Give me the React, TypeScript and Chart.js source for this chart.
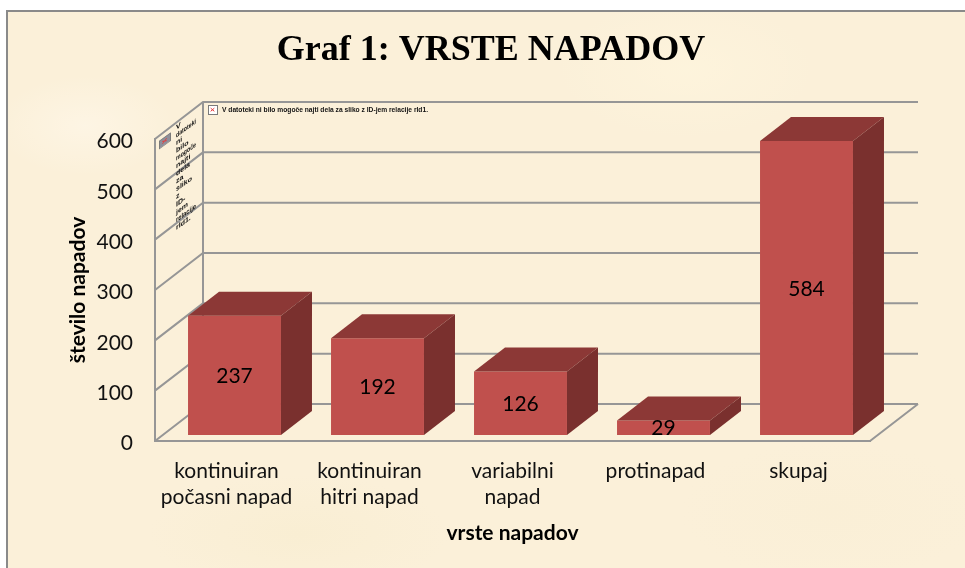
import React, { useEffect, useRef } from "react";
import { Chart, registerables } from "chart.js";

Chart.register(...registerables);

const categories: (string | string[])[] = [
  ["kontinuiran", "počasni napad"],
  ["kontinuiran", "hitri napad"],
  ["variabilni", "napad"],
  "protinapad",
  "skupaj",
];
const seriesValues = [237, 192, 126, 29, 584];
const chartTitle = "Graf 1: VRSTE NAPADOV";
const yAxisTitle = "število napadov";
const xAxisTitle = "vrste napadov";
const brokenImageText = "V datoteki ni bilo mogoče najti dela za sliko z ID-jem relacije rId1.";
const brokenImageLines = ["V", "datoteki", "ni", "bilo", "mogoče", "najti", "dela", "za", "sliko", "z", "ID-", "jem", "relacije", "rId1."];

const GRID = "#969696";
const FRONT = "#C0504D";
const TOP = "#8C3836";
const SIDE = "#7A302E";
const WALL_DX = 48;
const WALL_DY = -37;
const BAR_SHIFT_X = 8;
const BAR_SHIFT_Y = -6;
const BAR_DX = 31;
const BAR_DY = -24;
const LABEL_FONT = "Lato, sans-serif";

function brokenIcon(ctx: CanvasRenderingContext2D, x: number, y: number, s: number, fill: string) {
  ctx.fillStyle = fill;
  ctx.strokeStyle = "#7a7a7a";
  ctx.lineWidth = 1;
  ctx.fillRect(x, y, s, s);
  ctx.strokeRect(x + 0.5, y + 0.5, s, s);
  ctx.strokeStyle = "#e83a3a";
  ctx.beginPath();
  ctx.moveTo(x + s * 0.3, y + s * 0.35);
  ctx.lineTo(x + s * 0.7, y + s * 0.7);
  ctx.moveTo(x + s * 0.7, y + s * 0.35);
  ctx.lineTo(x + s * 0.3, y + s * 0.7);
  ctx.stroke();
}

const walls3d = {
  id: "walls3d",
  beforeDatasetsDraw(chart: any) {
    const { ctx, scales, chartArea } = chart;
    const { left, right, bottom, top } = chartArea;
    ctx.save();

    ctx.fillStyle = "#000";
    ctx.font = "bold 36px 'Liberation Serif', serif";
    ctx.textAlign = "center";
    ctx.textBaseline = "middle";
    ctx.fillText(chartTitle, 491, 51);

    ctx.strokeStyle = GRID;
    ctx.lineWidth = 2;
    scales.y.ticks.forEach((t: any) => {
      const y = scales.y.getPixelForValue(t.value);
      ctx.beginPath();
      ctx.moveTo(left, y);
      ctx.lineTo(left + WALL_DX, y + WALL_DY);
      ctx.lineTo(right + WALL_DX, y + WALL_DY);
      ctx.stroke();
    });
    ctx.beginPath();
    ctx.moveTo(left + WALL_DX, top + WALL_DY);
    ctx.lineTo(left + WALL_DX, bottom + WALL_DY);
    ctx.moveTo(right + WALL_DX, bottom + WALL_DY);
    ctx.lineTo(right, bottom);
    ctx.stroke();

    // missing-image placeholders painted on the back and side walls
    brokenIcon(ctx, 208, 105, 9, "#ffffff");
    ctx.fillStyle = "#111";
    ctx.font = "bold 6.7px 'Liberation Sans', sans-serif";
    ctx.textAlign = "left";
    ctx.textBaseline = "middle";
    ctx.fillText(brokenImageText, 222, 110, 206);

    ctx.save();
    ctx.transform(1, -0.72, 0, 1, 0, 0);
    const sx = 176;
    const lift = 0.72 * sx;
    ctx.font = "bold 7px 'Liberation Sans', sans-serif";
    brokenImageLines.forEach((line, i) => {
      ctx.fillText(line, sx, 128 + lift + i * 7.7, 20);
    });
    ctx.restore();
    ctx.save();
    ctx.transform(1, -0.72, 0, 0.7, 159, 141);
    brokenIcon(ctx, 0, 0, 11, "#8f8f9a");
    ctx.restore();
    ctx.restore();
  },
};

const bars3d = {
  id: "bars3d",
  beforeDatasetsDraw(chart: any) {
    chart.ctx.save();
    chart.ctx.translate(BAR_SHIFT_X, BAR_SHIFT_Y);
  },
  afterDatasetsDraw(chart: any) {
    const { ctx } = chart;
    const meta = chart.getDatasetMeta(0);
    meta.data.forEach((el: any) => {
      const { x, y, base, width } = el.getProps(["x", "y", "base", "width"], true);
      const l = x - width / 2;
      const r = x + width / 2;
      ctx.fillStyle = TOP;
      ctx.beginPath();
      ctx.moveTo(l, y);
      ctx.lineTo(l + BAR_DX, y + BAR_DY);
      ctx.lineTo(r + BAR_DX, y + BAR_DY);
      ctx.lineTo(r, y);
      ctx.closePath();
      ctx.fill();
      ctx.fillStyle = SIDE;
      ctx.beginPath();
      ctx.moveTo(r, y);
      ctx.lineTo(r + BAR_DX, y + BAR_DY);
      ctx.lineTo(r + BAR_DX, base + BAR_DY);
      ctx.lineTo(r, base);
      ctx.closePath();
      ctx.fill();
    });
    ctx.fillStyle = "#000";
    ctx.font = `21px ${LABEL_FONT}`;
    ctx.textAlign = "center";
    ctx.textBaseline = "middle";
    meta.data.forEach((el: any, i: number) => {
      const { x, y, base } = el.getProps(["x", "y", "base"], true);
      ctx.fillText(String(seriesValues[i]), x, (y + base) / 2 + 1);
    });
    ctx.restore();
  },
};

export default function App() {
  const ref = useRef<HTMLCanvasElement>(null);
  useEffect(() => {
    const chart = new Chart(ref.current as HTMLCanvasElement, {
      type: "bar",
      data: {
        labels: categories as any,
        datasets: [
          {
            data: seriesValues,
            backgroundColor: FRONT,
            borderWidth: 0,
            barPercentage: 0.65,
            categoryPercentage: 1,
          },
        ],
      },
      plugins: [walls3d, bars3d],
      options: {
        animation: false,
        responsive: false,
        devicePixelRatio: 1,
        layout: { padding: { left: 0, right: 95, top: 139, bottom: 0 } },
        plugins: {
          legend: { display: false },
          tooltip: { enabled: false },
        },
        scales: {
          x: {
            afterFit: (s: any) => { s.height = 127; },
            grid: { display: false },
            border: { display: true, color: GRID, width: 2 },
            ticks: {
              color: "#111",
              font: { family: LABEL_FONT, size: 21, lineHeight: 1.25 },
              padding: 9,
              maxRotation: 0,
              autoSkip: false,
            },
            title: {
              display: true,
              text: xAxisTitle,
              color: "#000",
              font: { family: LABEL_FONT, size: 21, weight: "bold" },
              padding: { top: 0, bottom: 22 },
            },
          },
          y: {
            min: 0,
            max: 600,
            afterFit: (s: any) => { s.width = 155; },
            grid: { display: false },
            border: { display: true, color: GRID, width: 2 },
            ticks: {
              stepSize: 100,
              color: "#111",
              font: { family: LABEL_FONT, size: 21 },
              padding: 14,
              labelOffset: 2.5,
            },
            title: {
              display: true,
              text: yAxisTitle,
              color: "#000",
              font: { family: LABEL_FONT, size: 21, weight: "bold" },
              padding: { top: 66, bottom: 0 },
            },
          },
        },
      },
    } as any);
    return () => chart.destroy();
  }, []);

  return (
    <div style={{ position: "fixed", left: 0, top: 0, width: 965, height: 568, background: "#fff", overflow: "hidden" }}>
      <div
        style={{
          position: "absolute",
          left: 6,
          top: 10,
          width: 970,
          height: 570,
          boxSizing: "border-box",
          borderLeft: "2px solid #8a8a8a",
          borderTop: "2px solid #8a8a8a",
          background:
            "radial-gradient(ellipse 90px 50px at 8% 20%, rgba(255,248,235,.6), transparent)," +
            "radial-gradient(ellipse 130px 70px at 70% 10%, rgba(255,246,222,.6), transparent)," +
            "radial-gradient(ellipse 150px 60px at 30% 92%, rgba(247,236,205,.5), transparent)," +
            "radial-gradient(ellipse 150px 70px at 85% 88%, rgba(249,238,212,.5), transparent)," +
            "#FBF0D9",
        }}
      />
      <canvas ref={ref} width={965} height={568} style={{ position: "absolute", left: 0, top: 0 }} />
    </div>
  );
}
